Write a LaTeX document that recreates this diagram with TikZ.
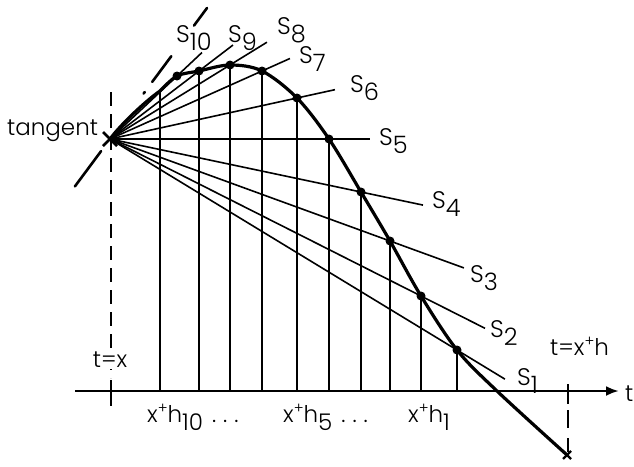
\documentclass[tikz,border=0pt]{standalone}
\usepackage{fontspec}
\setmainfont{Poppins}[UprightFont={* Light}]
\usetikzlibrary{calc,arrows.meta}
\newcommand\mysub[1]{\raisebox{-0.36em}{#1}}
\newcommand\myplus{\raisebox{0.35em}{\fontsize{15}{15}\selectfont +}}
\newcommand\mydots{\hspace{9pt}.\hspace{7pt}.\hspace{7pt}.}
\begin{document}
\begin{tikzpicture}[x=1pt,y=-1pt,
  thinline/.style={line width=1.6pt},
  curveline/.style={line width=3.2pt, line join=round},
  axisline/.style={line width=2.8pt},
  dashline/.style={line width=1.6pt, dash pattern=on 14pt off 8pt},
  tandash/.style={line width=2.6pt, line cap=round},
  crossline/.style={line width=2.2pt},
  lab/.style={font=\fontsize{23}{27}\selectfont, inner sep=0pt},
  slab/.style={font=\fontsize{24}{28}\selectfont, inner sep=0pt, anchor=base west}]
\useasboundingbox (0,0) rectangle (634,466);

% key points
\coordinate (T) at (110,139);
\coordinate (V) at (160,91);
\coordinate (P10) at (177,76);
\coordinate (P9) at (199,71);
\coordinate (P8) at (230,65);
\coordinate (P7) at (262,71);
\coordinate (P6) at (297,98);
\coordinate (P5) at (329,139);
\coordinate (P4) at (361,192);
\coordinate (P3) at (390,241);
\coordinate (P2) at (421,296);
\coordinate (P1) at (457,350);
\coordinate (B) at (567,455);
\coordinate (A0) at (75,391);
\coordinate (A1) at (619,391);

% left dashed vertical
\draw[dashline] (111,92) -- (111,378);
\draw[thinline] (111,380) -- (111,406);
% right dashed vertical
\draw[thinline] (568,384) -- (568,404);
\draw[thinline, dash pattern=on 18pt off 10pt] (568,410) -- (568,452);

% verticals
\draw[thinline] (V) -- (V |- A0);
\foreach \i in {1,...,9} {\draw[thinline] (P\i) -- (P\i |- A0);}

% secants
\draw[thinline] (T) -- ($(T)!1.138!(P1)$) coordinate (E1);
\draw[thinline] (T) -- ($(T)!1.206!(P2)$) coordinate (E2);
\draw[thinline] (T) -- ($(T)!1.264!(P3)$) coordinate (E3);
\draw[thinline] (T) -- ($(T)!1.247!(P4)$) coordinate (E4);
\draw[thinline] (T) -- ($(T)!1.187!(P5)$) coordinate (E5);
\draw[thinline] (T) -- ($(T)!1.203!(P6)$) coordinate (E6);
\draw[thinline] (T) -- ($(T)!1.184!(P7)$) coordinate (E7);
\draw[thinline] (T) -- ($(T)!1.308!(P8)$) coordinate (E8);
\draw[thinline] (T) -- ($(T)!1.382!(P9)$) coordinate (E9);
\draw[thinline] (T) -- ($(T)!1.373!(P10)$) coordinate (E10);

% tangent (dash-dot)
\draw[tandash] (207,8) -- (194,25.6);
\draw[tandash] (171.3,56.2) -- (152.2,81.9);
\draw[tandash] (144.8,92) -- (143.6,93.6);
\draw[tandash] (101.1,151.1) -- (74.9,186.4);

% axis
\draw[axisline, -{Latex[length=13pt,width=10pt]}] (A0) -- (A1);

% curve
\draw[curveline] (110,139) .. controls (122,123) and (147,100) .. (160,91)
  plot[smooth, tension=0.55] coordinates {
  (160,91) (177,76) (199,71) (230,65) (262,71)
  (297,98) (329,139) (361,192) (390,241) (421,296) (457,350)
  (497,391) (567,455)};

% dots
\foreach \i in {1,...,10} {\fill (P\i) circle (4.5pt);}

% crosses
\draw[crossline, line width=2.8pt] ($(T)+(-7,-7)$) -- ($(T)+(7,7)$);
\draw[crossline, line width=2.8pt] ($(T)+(-7,7)$) -- ($(T)+(7,-7)$);
\draw[crossline] ($(B)+(-4,-4)$) -- ($(B)+(4,4)$);
\draw[crossline] ($(B)+(-4,4)$) -- ($(B)+(4,-4)$);

% labels
\node[lab, anchor=base west] (tan) at (7,135) {tangent};
\node[lab, anchor=base, fill=white, inner sep=2pt] (tx) at (110,367) {t=x};
\node[lab, anchor=base west] (txh) at (550,355) {t=x\myplus h};
\node[lab, anchor=base west] (tax) at (625,401) {t};
\node[lab, anchor=base west] (h10) at (147,422) {x\myplus h\mysub{10}\mydots};
\node[lab, anchor=base west] (h5) at (283,422) {x\myplus h\mysub{5}\mydots};
\node[lab, anchor=base west] (h1) at (408,422) {x\myplus h\mysub{1}};

\node[slab] (s1) at (517,385) {S\mysub{1}};
\node[slab] (s2) at (490,337) {S\mysub{2}};
\node[slab] (s3) at (470,282) {S\mysub{3}};
\node[slab] (s4) at (432,208) {S\mysub{4}};
\node[slab] (s5) at (379,145) {S\mysub{5}};
\node[slab] (s6) at (350,92) {S\mysub{6}};
\node[slab] (s7) at (299,63) {S\mysub{7}};
\node[slab] (s8) at (277,34) {S\mysub{8}};
\node[slab] (s9) at (228,42) {S\mysub{9}};
\node[slab] (s10) at (176,42) {S\mysub{10}};
\end{tikzpicture}
\end{document}
